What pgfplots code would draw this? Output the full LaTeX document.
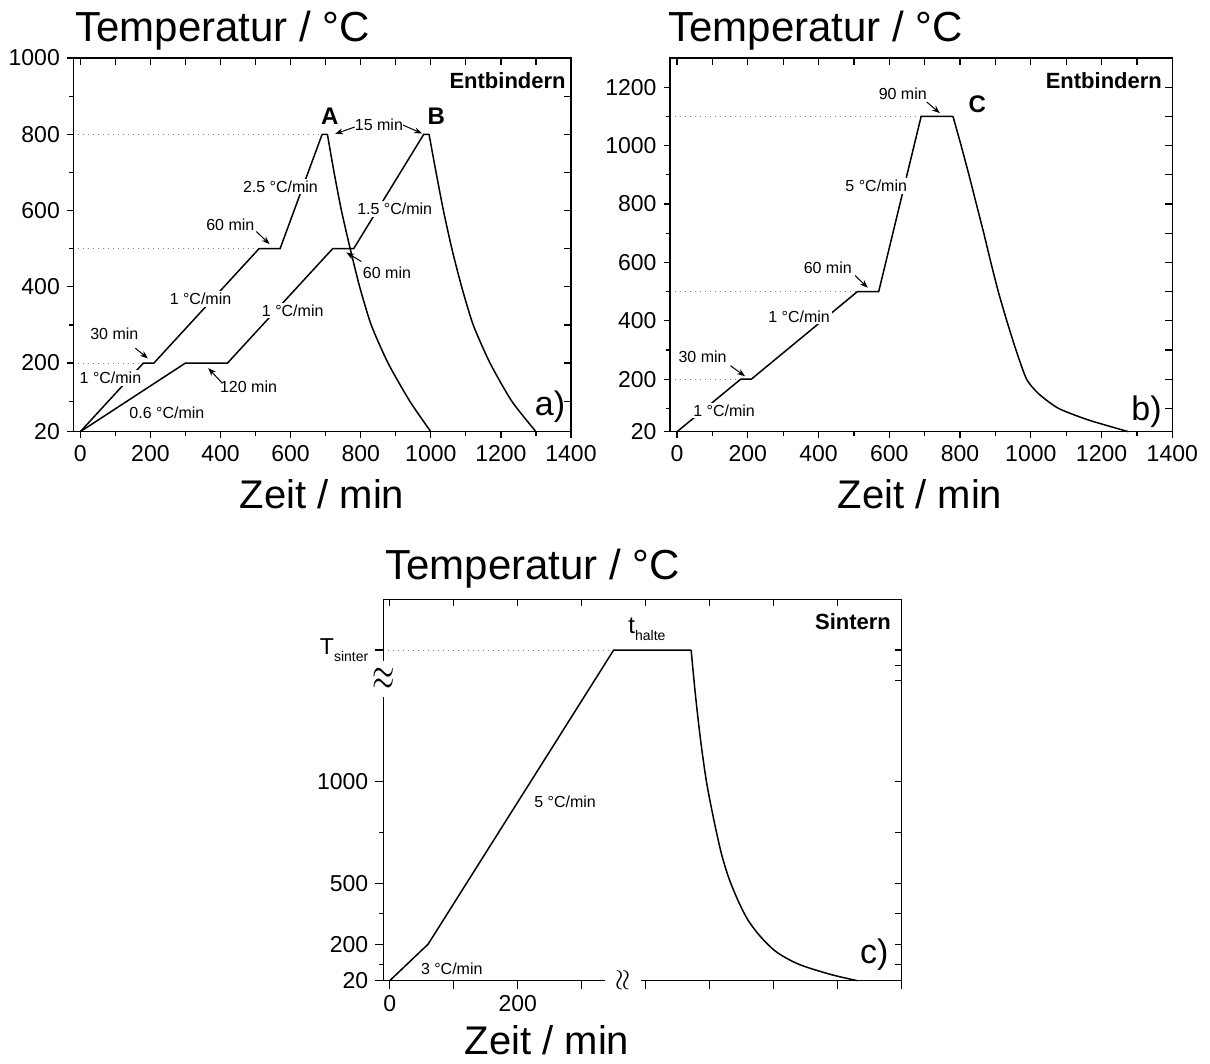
\documentclass[border=0pt]{standalone}
\usepackage{pgfplots}
\pgfplotsset{compat=1.18}
\usepackage{fontspec}
\setmainfont{Liberation Sans}
\usetikzlibrary{arrows.meta}

\newcommand\fs[1]{\fontsize{#1}{#1}\selectfont}

\pgfplotsset{
  panel/.style={
    scale only axis, anchor=south west, clip=false,
    axis line style={line width=0.75pt},
    tick align=outside, xtick pos=left, ytick pos=left,
    major tick length=3.2pt, minor tick length=2pt,
    every tick/.style={black, line width=0.6pt},
    ticklabel style={font=\fs{11.5}},
    /pgf/number format/assume math mode=true,
    /pgf/number format/1000 sep={},
  },
  mirror/.style={
    scale only axis, anchor=south west,
    axis line style={line width=0.75pt},
    tick align=inside, xtick pos=right, ytick pos=right,
    major tick length=3.5pt,
    every tick/.style={black, line width=0.6pt},
    xticklabels={}, yticklabels={},
  },
  curve/.style={black, line width=0.75pt, mark=none},
  guide/.style={gray, dotted, line width=0.5pt, mark=none},
}
\tikzset{
  lab/.style={font=\fs{8}, fill=white, inner sep=1pt},
  big/.style={font=\fs{12}\bfseries, inner sep=0pt},
  tag/.style={font=\fs{17}, inner sep=0pt},
  arr/.style={-{Stealth[length=4pt,width=3pt]}, line width=0.5pt},
}

\begin{document}
\begin{tikzpicture}
\useasboundingbox (0,0) rectangle (605pt,532pt);

% ---------- a) ----------
\begin{axis}[panel, at={(36.65pt,316.15pt)}, width=248.85pt, height=186.85pt,
  xmin=-20, xmax=1400, ymin=20, ymax=1000,
  xtick={0,200,...,1400}, minor xtick={100,300,...,1300},
  ytick={20,200,400,600,800,1000}, minor ytick={100,300,...,900}]
\addplot[guide] coordinates {(-20,200) (180,200)};
\addplot[guide] coordinates {(-20,500) (510,500)};
\addplot[guide] coordinates {(-20,800) (690,800)};
% curve A
\addplot[curve] coordinates {(0,20) (180,200) (210,200) (510,500) (570,500) (690,800) (705,800)};
\addplot[curve, smooth, tension=0.4] coordinates {(705,800) (724,700) (745,600) (770,500)
  (797,400) (830,300) (878,200) (940,100) (1000,20)};
% curve B
\addplot[curve] coordinates {(0,20) (300,200) (420,200) (720,500) (780,500) (980,800) (995,800)};
\addplot[curve, smooth, tension=0.4] coordinates {(995,800) (1015,700) (1036,600) (1060,500)
  (1088,400) (1121,300) (1169,200) (1231,100) (1300,20)};

\node[lab] at (axis cs:86,161) {1 °C/min};
\node[lab] at (axis cs:247,70) {0.6 °C/min};
\node[lab] at (axis cs:97,277) {30 min};
\draw[arr] (axis cs:157,239) -- (axis cs:193,212);
\node[lab] at (axis cs:480,137) {120 min};
\draw[arr] (axis cs:403,149) -- (axis cs:365,187);
\node[lab] at (axis cs:343,368) {1 °C/min};
\node[lab] at (axis cs:606,338) {1 °C/min};
\node[lab] at (axis cs:428,562) {60 min};
\draw[arr] (axis cs:502,545) -- (axis cs:540,512);
\node[lab] at (axis cs:571,663) {2.5 °C/min};
\node[lab] at (axis cs:897,604) {1.5 °C/min};
\node[lab] at (axis cs:875,437) {60 min};
\draw[arr] (axis cs:802,466) -- (axis cs:759,490);
\node[lab] at (axis cs:852,825) {15 min};
\draw[arr] (axis cs:783,819) -- (axis cs:727,801);
\draw[arr] (axis cs:921,824) -- (axis cs:975,802);
\node[big] at (axis cs:712,848) {A};
\node[big] at (axis cs:1016,848) {B};
\node[font=\fs{11}\bfseries, inner sep=0pt, anchor=north east] at (rel axis cs:0.99,0.963) {Entbindern};
\node[tag] at (axis cs:1340,86) {a)};
\end{axis}
\begin{axis}[mirror, at={(36.65pt,316.15pt)}, width=248.85pt, height=186.85pt,
  xmin=-20, xmax=1400, ymin=20, ymax=1000,
  xtick={0,100,...,1400}, ytick={100,200,...,900}]
\end{axis}

% ---------- b) ----------
\begin{axis}[panel, at={(335pt,316.15pt)}, width=251.15pt, height=186.85pt,
  xmin=-20, xmax=1400, ymin=20, ymax=1300,
  xtick={0,200,...,1400}, minor xtick={100,300,...,1300},
  ytick={20,200,400,600,800,1000,1200}, minor ytick={100,300,...,1100}]
\addplot[guide] coordinates {(-20,200) (180,200)};
\addplot[guide] coordinates {(-20,500) (510,500)};
\addplot[guide] coordinates {(-20,1100) (690,1100)};
\addplot[curve] coordinates {(0,20) (180,200) (210,200) (510,500) (570,500) (690,1100) (780,1100)};
\addplot[curve, smooth, tension=0.4] coordinates {(780,1100) (803,1000) (825,900) (846,800)
  (867,700) (887,600) (908,500) (932,400) (958,300) (988,200) (1022,150) (1078,100)
  (1163,60) (1276,20)};

\node[lab] at (axis cs:133,93) {1 °C/min};
\node[lab] at (axis cs:72,276) {30 min};
\draw[arr] (axis cs:151,246) -- (axis cs:192,210);
\node[lab] at (axis cs:345,415) {1 °C/min};
\node[lab] at (axis cs:426,580) {60 min};
\draw[arr] (axis cs:503,555) -- (axis cs:539,513);
\node[lab] at (axis cs:563,861) {5 °C/min};
\node[lab] at (axis cs:638,1178) {90 min};
\draw[arr] (axis cs:706,1149) -- (axis cs:743,1111);
\node[big] at (axis cs:849,1143) {C};
\node[font=\fs{11}\bfseries, inner sep=0pt, anchor=north east] at (rel axis cs:0.98,0.963) {Entbindern};
\node[tag] at (axis cs:1327,87) {b)};
\end{axis}
\begin{axis}[mirror, at={(335pt,316.15pt)}, width=251.15pt, height=186.85pt,
  xmin=-20, xmax=1400, ymin=20, ymax=1300,
  xtick={0,100,...,1400}, ytick={100,200,...,1200}]
\end{axis}

% ---------- c) ----------
\begin{axis}[panel, at={(191.65pt,41.65pt)}, width=259.2pt, height=190.7pt,
  xmin=-10, xmax=800, ymin=20, ymax=1900,
  major tick length=4pt,
  xtick={0,100,...,800}, xticklabels={0,,200,,,,,,},
  ytick={20,200,500,1000,1650},
  yticklabels={20,200,500,1000,{T\raisebox{-3.5pt}{\fs{7}sinter}}},
  minor ytick={100,350,750,1500,1575}]
\addplot[guide] coordinates {(-10,1650) (350,1650)};
\addplot[curve] coordinates {(0,20) (60,200) (350,1650) (471,1650)};
\addplot[curve, smooth, tension=0.5] coordinates {(471,1650) (478,1420) (486,1200) (495,1000)
  (506,820) (518,650) (530,525) (545,410) (560,318) (580,235) (605,160) (640,100)
  (690,50) (731,20)};

\node[lab] at (axis cs:97,81) {3 °C/min};
\node[lab] at (axis cs:274,904) {5 °C/min};
\node[inner sep=0pt] at (axis cs:402,1753) {\fs{12}t\raisebox{-3.8pt}{\fs{7}halte}};
\node[font=\fs{11}\bfseries, inner sep=0pt, anchor=north east] at (rel axis cs:0.98,0.964) {Sintern};
\node[tag] at (axis cs:757,147) {c)};
\coordinate (ybrk) at (axis cs:-10,1506);
\coordinate (xbrk) at (axis cs:365,20);
\end{axis}
\begin{axis}[mirror, at={(191.65pt,41.65pt)}, width=259.2pt, height=190.7pt,
  xmin=-10, xmax=800, ymin=20, ymax=1900,
  xtick={0,100,...,700}, ytick={100,200,350,500,750,1000,1500,1575,1650}]
\end{axis}
\node[fill=white, inner sep=0pt, minimum height=18pt, font=\fs{14}] at (ybrk) {\scalebox{1}[1.6]{$\approx$}};
\node[fill=white, inner sep=0pt, minimum height=18pt, rotate=90, font=\fs{14}] at (xbrk) {$\approx$};

% titles and axis labels
\node[anchor=base west, font=\fs{21}, inner sep=0pt] at (37.5pt,511pt) {Temperatur / °C};
\node[anchor=base west, font=\fs{21}, inner sep=0pt] at (334pt,511pt) {Temperatur / °C};
\node[anchor=base west, font=\fs{21}, inner sep=0pt] at (192.5pt,242pt) {Temperatur / °C};
\node[anchor=base, font=\fs{20}, inner sep=0pt] at (161pt,277.5pt) {Zeit / min};
\node[anchor=base, font=\fs{20}, inner sep=0pt] at (460pt,277.5pt) {Zeit / min};
\node[anchor=base, font=\fs{20}, inner sep=0pt] at (273.5pt,4.5pt) {Zeit / min};
\end{tikzpicture}
\end{document}
